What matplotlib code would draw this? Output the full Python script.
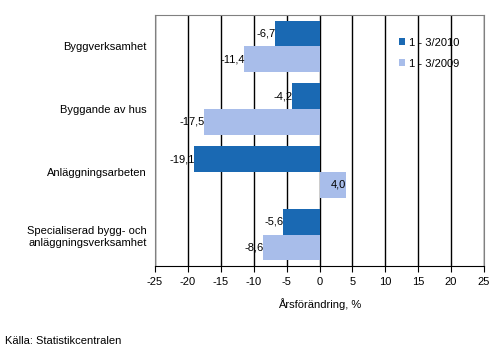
import numpy as np
import matplotlib
matplotlib.use('Agg')
import matplotlib.pyplot as plt

plt.rcParams['font.family'] = ['Liberation Sans', 'DejaVu Sans']

# Data
categories = ['Byggverksamhet', 'Byggande av hus', 'Anläggningsarbeten',
              'Specialiserad bygg- och\nanläggningsverksamhet']
series_names = ['1 - 3/2010', '1 - 3/2009']
v2010 = [-6.7, -4.2, -19.1, -5.6]
v2009 = [-11.4, -17.5, 4.0, -8.6]
xticks = list(range(-25, 30, 5))

dark = '#1a69b3'
light = '#a8bdea'
fs = 8

fig = plt.figure(figsize=(5, 3.55), dpi=100)
ax = fig.add_axes([0.31, 0.2507, 0.658, 0.707])

y = np.arange(len(categories))
h = 0.41
b1 = ax.barh(y - h / 2, v2010, height=h, color=dark, label=series_names[0], zorder=3)
b2 = ax.barh(y + h / 2, v2009, height=h, color=light, label=series_names[1], zorder=3)

def fmt(v):
    return f'{v:.1f}'.replace('.', ',')

for bars, vals in ((b1, v2010), (b2, v2009)):
    for bar, v in zip(bars, vals):
        ax.text(v + 0.1, bar.get_y() + bar.get_height() / 2, fmt(v),
                ha='right', va='center', fontsize=fs, zorder=4)

ax.set_xlim(-25, 25)
ax.set_ylim(len(categories) - 0.5, -0.5)
ax.set_xticks(xticks)
ax.set_xticklabels([str(t) for t in xticks], fontsize=fs)
ax.set_yticks(y)
ax.set_yticklabels(categories, fontsize=fs, ha='right', linespacing=1.3)
ax.tick_params(axis='y', length=0, pad=6)
ax.tick_params(axis='x', length=4, direction='out', color='black', pad=4)
ax.xaxis.grid(True, color='black', linewidth=1)
ax.set_axisbelow(True)
for s in ax.spines.values():
    s.set_color('#808080')
ax.spines['bottom'].set_color('black')
ax.set_xlabel('Årsförändring, %', fontsize=fs, labelpad=8)

leg = ax.legend(loc='upper left', bbox_to_anchor=(0.71, 0.95), frameon=False,
                fontsize=fs, handlelength=0.6, handleheight=0.6,
                labelspacing=1.0, handletextpad=0.3)

fig.text(0.01, 0.03, 'Källa: Statistikcentralen', fontsize=fs)

fig.savefig('out.png', dpi=100)
